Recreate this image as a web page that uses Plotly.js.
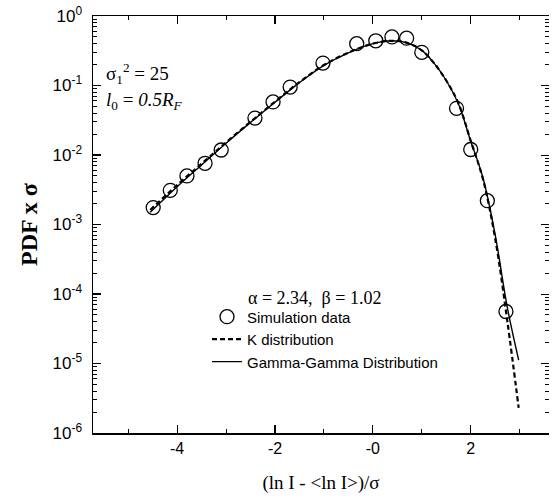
<!DOCTYPE html>
<html>
<head>
<meta charset="utf-8">
<script src="https://cdn.plot.ly/plotly-3.0.1.min.js"></script>
<style>html,body{margin:0;padding:0;background:#fff}#chart{width:552px;height:502px}</style>
</head>
<body>
<div id="chart"></div>
<script>
// Simulation data (circles)
const simX = [-4.49, -4.14, -3.80, -3.43, -3.10, -2.41, -2.04, -1.69, -1.02, -0.33, 0.06, 0.39, 0.69, 1.00, 1.71, 2.00, 2.34, 2.72];
const simY = [1.75e-3, 3.1e-3, 5.0e-3, 7.6e-3, 1.18e-2, 3.4e-2, 5.8e-2, 9.5e-2, 0.21, 0.40, 0.44, 0.50, 0.48, 0.30, 0.047, 0.012, 2.2e-3, 5.6e-5];

// Gamma-Gamma distribution (solid line)
const ggX = [-4.55, -4.0, -3.5, -3.0, -2.5, -2.0, -1.5, -1.0, -0.5, 0.0, 0.4, 0.7, 1.0, 1.25, 1.5, 1.75, 2.0, 2.25, 2.5, 2.75, 2.98];
const ggY = [1.5e-3, 3.5e-3, 7.2e-3, 1.48e-2, 2.95e-2, 5.75e-2, 0.11, 0.195, 0.295, 0.40, 0.44, 0.41, 0.32, 0.21, 0.118, 0.054, 0.0158, 4.7e-3, 7.1e-4, 6.3e-5, 1.12e-5];

// K distribution (dashed line)
const kX = [-4.55, -4.0, -3.5, -3.0, -2.5, -2.0, -1.5, -1.0, -0.5, 0.0, 0.4, 0.7, 1.0, 1.25, 1.5, 1.75, 2.0, 2.25, 2.5, 2.75, 2.98];
const kY = [1.62e-3, 3.7e-3, 7.5e-3, 1.52e-2, 3.0e-2, 5.85e-2, 0.112, 0.197, 0.297, 0.40, 0.44, 0.41, 0.32, 0.21, 0.118, 0.055, 0.0160, 4.5e-3, 6.3e-4, 4.0e-5, 2.3e-6];

// Axis ticks
const xTickVals = [-4, -2, 0, 2];
const xTickText = ['-4', '-2', '-0', '2'];
const yTickVals = [1e-6, 1e-5, 1e-4, 1e-3, 1e-2, 1e-1, 1];
const yTickText = ['10<sup>-6</sup>', '10<sup>-5</sup>', '10<sup>-4</sup>', '10<sup>-3</sup>', '10<sup>-2</sup>', '10<sup>-1</sup>', '10<sup>0</sup>'];

const traces = [
  {x: simX, y: simY, type: 'scatter', mode: 'markers', name: 'Simulation data',
   marker: {symbol: 'circle-open', size: 14, color: '#000', line: {width: 1.3, color: '#000'}}},
  {x: kX, y: kY, type: 'scatter', mode: 'lines', name: 'K distribution',
   line: {color: '#000', width: 2.2, dash: '5px,3px', shape: 'spline'}},
  {x: ggX, y: ggY, type: 'scatter', mode: 'lines', name: 'Gamma-Gamma Distribution',
   line: {color: '#000', width: 1.4, shape: 'spline'}},
  {x: [0], y: [1], yaxis: 'y2', type: 'scatter', mode: 'markers', marker: {opacity: 0}, showlegend: false, hoverinfo: 'skip'}
];

const tickFont = {family: 'Liberation Sans, Arial, sans-serif', size: 16, color: '#000'};

const layout = {
  width: 552, height: 502,
  margin: {l: 93, r: 3, t: 16, b: 69},
  paper_bgcolor: '#fff', plot_bgcolor: '#fff',
  showlegend: true,
  legend: {x: 0.25, y: 0.318, xanchor: 'left', yanchor: 'top', bgcolor: 'rgba(0,0,0,0)',
           font: {family: 'Liberation Sans, Arial, sans-serif', size: 15, color: '#000'},
           tracegroupgap: 0, itemwidth: 30},
  xaxis: {
    range: [-5.72, 3.6], showgrid: false, zeroline: false,
    showline: true, linecolor: '#000', linewidth: 1.5, mirror: 'ticks',
    tickmode: 'array', tickvals: xTickVals, ticktext: xTickText,
    ticks: 'inside', ticklen: 8, tickwidth: 1.2, tickcolor: '#000',
    minor: {tickmode: 'linear', tick0: 1, dtick: 1, ticks: 'inside', ticklen: 4, tickwidth: 1, tickcolor: '#000', showgrid: false},
    tickfont: tickFont,
    title: {text: '(ln I - &lt;ln I&gt;)/σ', font: {family: 'Liberation Serif, Times New Roman, serif', size: 19, color: '#000'}, standoff: 20}
  },
  yaxis: {
    type: 'log', range: [-6, 0], showgrid: false, zeroline: false,
    showline: true, linecolor: '#000', linewidth: 1.5,
    tickmode: 'array', tickvals: yTickVals, ticktext: yTickText,
    ticks: 'inside', ticklen: 8, tickwidth: 1.2, tickcolor: '#000',
    minor: {dtick: 'D1', ticks: 'inside', ticklen: 4, tickwidth: 1, tickcolor: '#000', showgrid: false},
    tickfont: {family: 'Liberation Sans, Arial, sans-serif', size: 17, color: '#000'},
    ticklabelstandoff: 6,
    title: {text: '<b>PDF x σ</b>', font: {family: 'Liberation Serif, Times New Roman, serif', size: 24, color: '#000'}, standoff: 8}
  },
  yaxis2: {
    type: 'log', range: [-6, 0], overlaying: 'y', side: 'right', showgrid: false, zeroline: false,
    showline: false, showticklabels: false,
    tickmode: 'array', tickvals: yTickVals,
    ticks: 'inside', ticklen: 8, tickwidth: 1, tickcolor: '#000',
    minor: {dtick: 'D1', ticks: 'inside', ticklen: 4, tickwidth: 1, tickcolor: '#000', showgrid: false}
  },
  annotations: [
    {xref: 'paper', yref: 'paper', x: 0.025, y: 0.862, xanchor: 'left', yanchor: 'middle', showarrow: false,
     text: 'σ<sub>1</sub><sup>2</sup> = 25', font: {family: 'Liberation Serif, Times New Roman, serif', size: 19, color: '#000'}},
    {xref: 'paper', yref: 'paper', x: 0.025, y: 0.797, xanchor: 'left', yanchor: 'middle', showarrow: false,
     text: '<i>l</i><sub>0</sub> = <i>0.5R<sub>F</sub></i>', font: {family: 'Liberation Serif, Times New Roman, serif', size: 19, color: '#000'}},
    {xref: 'paper', yref: 'paper', x: 0.485, y: 0.324, xanchor: 'center', yanchor: 'middle', showarrow: false,
     text: 'α = 2.34,  β = 1.02', font: {family: 'Liberation Serif, Times New Roman, serif', size: 18, color: '#000'}}
  ]
};

Plotly.newPlot('chart', traces, layout, {staticPlot: true, displayModeBar: false});
</script>
</body>
</html>
